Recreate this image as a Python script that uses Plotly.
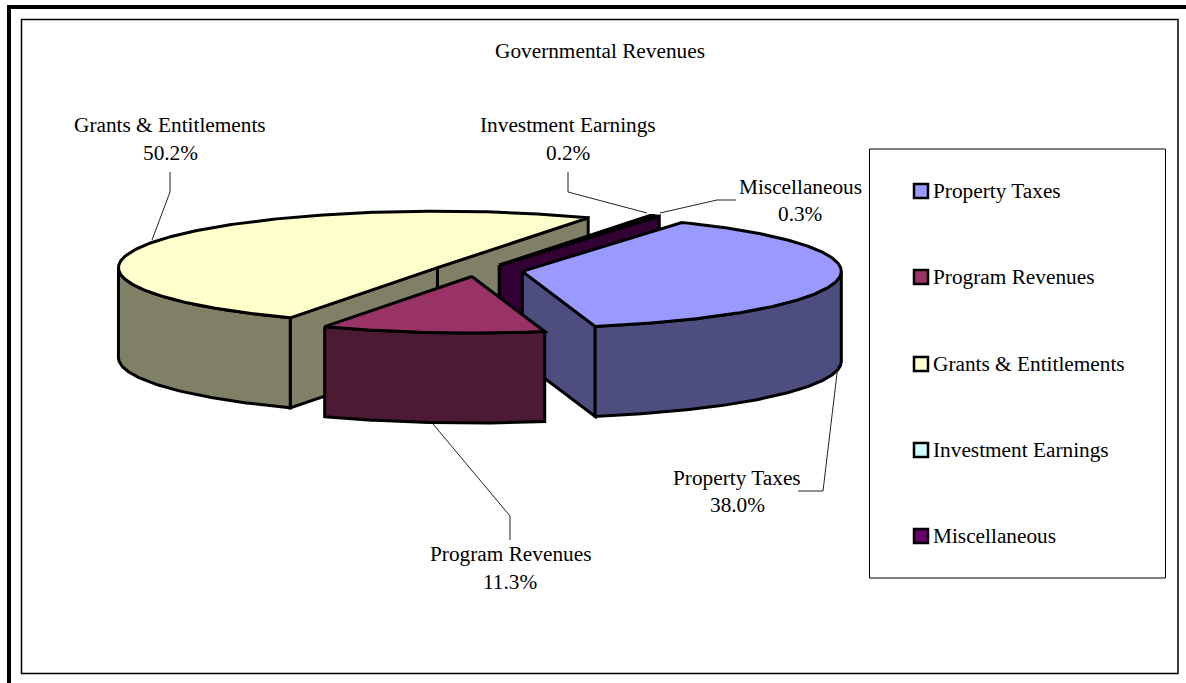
import math
import plotly.graph_objects as go

# ---- data ----
categories = ["Property Taxes", "Program Revenues", "Grants & Entitlements",
              "Investment Earnings", "Miscellaneous"]
shares = [38.0, 11.3, 50.2, 0.2, 0.3]
title_text = "Governmental Revenues"

# ---- styles ----
top_colors = ["#9999FF", "#993366", "#FFFFCC", "#CCFFFF", "#660066"]
side_colors = ["#4D4D80", "#4D1A33", "#808066", "#666680", "#330033"]
FONT = "Liberation Serif"
FS = 21.3

# ---- projection of the pie (pixels of the 1186x683 canvas) ----
CX, CY = 477.5, 270.5
RX, RY = 319.0, 56.5
DEPTH = 90.0
EXPLODE_X, EXPLODE_Y = 0.142, 0.107
START = 60.0

def ell(c, t):
    r = math.radians(t)
    return (c[0] + RX * math.cos(r), c[1] - RY * math.sin(r))

def arc(c, t0, t1):
    n = max(2, int(abs(t1 - t0) * 1.5) + 2)
    return [ell(c, t0 + (t1 - t0) * i / (n - 1)) for i in range(n)]

def poly(fig, pts, color, width=3):
    xs = [p[0] for p in pts] + [pts[0][0]]
    ys = [p[1] for p in pts] + [pts[0][1]]
    fig.add_trace(go.Scatter(x=xs, y=ys, mode="lines", fill="toself", fillcolor=color,
                             line=dict(color="black", width=width), hoverinfo="skip",
                             showlegend=False))

def down(pts):
    return [(x, y + DEPTH) for x, y in pts]

fig = go.Figure()

# slice geometry from the values: clockwise from START
slices = []
t = START
for i, v in enumerate(shares):
    hi = t
    lo = t - v * 3.6
    mid = (hi + lo) / 2
    r = math.radians(mid)
    c = (CX + EXPLODE_X * RX * math.cos(r), CY - EXPLODE_Y * RY * math.sin(r))
    slices.append((i, c, lo, hi))
    t = lo

# painter's order: back to front
for i in [2, 3, 4, 0, 1]:
    _, c, lo, hi = slices[i]
    # cut faces facing the viewer
    if math.cos(math.radians(lo)) > 0:
        e = ell(c, lo)
        poly(fig, [c, e, (e[0], e[1] + DEPTH), (c[0], c[1] + DEPTH)], side_colors[i])
    if math.cos(math.radians(hi)) < 0:
        e = ell(c, hi)
        poly(fig, [c, e, (e[0], e[1] + DEPTH), (c[0], c[1] + DEPTH)], side_colors[i])
    # outer wall: the part of the arc in the front half
    for k in range(-1, 1):
        a = max(lo, -180 + 360 * k)
        b = min(hi, 0 + 360 * k)
        if b > a:
            edge = arc(c, a, b)
            poly(fig, edge + down(edge)[::-1], side_colors[i])
    # top face
    poly(fig, [c] + arc(c, lo, hi), top_colors[i])

# legend swatches
legend_y = [191, 277, 364, 450, 536]
fig.add_trace(go.Scatter(x=[921] * 5, y=legend_y, mode="markers", hoverinfo="skip", showlegend=False,
                         marker=dict(symbol="square", size=14, color=top_colors,
                                     line=dict(color="black", width=2.5))))

def text(s, x, y, anchor="center"):
    fig.add_annotation(x=x, y=y, text=s, showarrow=False, xanchor=anchor, yanchor="middle",
                       font=dict(family=FONT, size=FS, color="black"))

text(title_text, 600, 51)
for name, y in zip(categories, legend_y):
    text(name, 931, y, "left")

label_pos = [(737, 478, 505), (510, 554, 582), (170, 125, 153), (568, 125, 153), (800, 187, 214)]
for name, v, (x, y1, y2) in zip(categories, shares, label_pos):
    text(name, x, y1)
    text(f"{v:.1f}%", x, y2)

# leader lines
leaders = [
    [(798, 491), (823, 491), (838, 365)],
    [(510, 540), (510, 516), (433, 424)],
    [(170, 172), (170, 192), (152, 240)],
    [(568, 172), (568, 192), (647, 213)],
    [(736, 200), (717, 200), (660, 213)],
]
for pts in leaders:
    fig.add_trace(go.Scatter(x=[p[0] for p in pts], y=[p[1] for p in pts], mode="lines",
                             line=dict(color="#222222", width=1), hoverinfo="skip", showlegend=False))

shapes = [
    dict(type="rect", x0=21.5, y0=19.5, x1=1178, y1=673.5, line=dict(color="black", width=1.5), layer="below"),
    dict(type="rect", x0=869.5, y0=149, x1=1165.5, y1=578, line=dict(color="black", width=1), layer="below"),
    dict(type="rect", x0=7, y0=5, x1=11, y1=683, fillcolor="black", line=dict(width=0), layer="below"),
    dict(type="rect", x0=7, y0=5, x1=1186, y1=9, fillcolor="black", line=dict(width=0), layer="below"),
]

fig.update_layout(
    width=1186, height=683, margin=dict(l=0, r=0, t=0, b=0),
    paper_bgcolor="white", plot_bgcolor="white", showlegend=False, shapes=shapes,
    xaxis=dict(range=[0, 1186], visible=False, fixedrange=True),
    yaxis=dict(range=[683, 0], visible=False, fixedrange=True),
)
fig.write_html("out.html", config=dict(displayModeBar=False),
               post_script="document.body.style.margin='0';document.documentElement.style.overflow='hidden';"
                           "document.querySelectorAll('.js-line').forEach(function(p){p.style.strokeLinejoin='miter';p.style.strokeMiterlimit='4';});")
